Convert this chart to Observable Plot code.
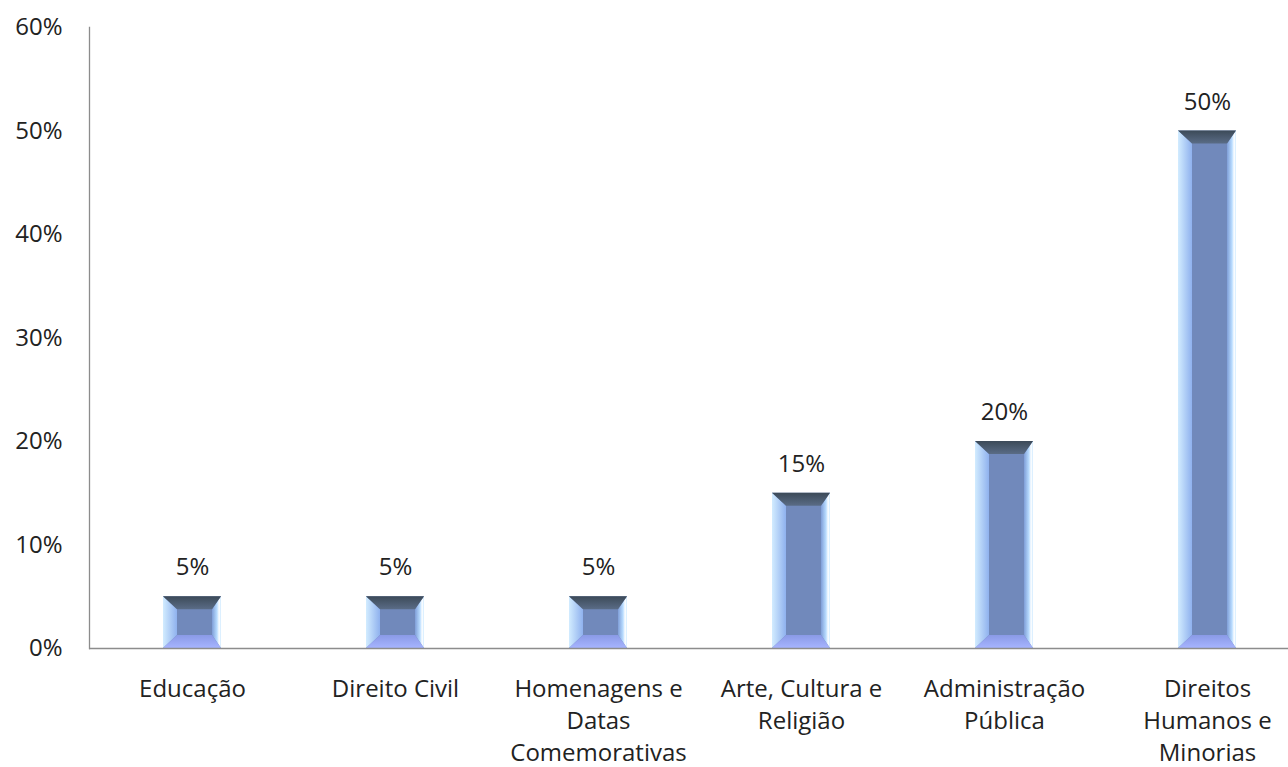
<!DOCTYPE html>
<html><head><meta charset="utf-8">
<script src="https://cdn.jsdelivr.net/npm/d3@7"></script>
<script src="https://cdn.jsdelivr.net/npm/@observablehq/plot@0.6"></script>
<style>
body{margin:0;background:#fff;}
#chart svg{display:block;font-family:"Open Sans",sans-serif;}
</style>
</head><body><div id="chart"></div>
<script>
const categories = ["Educação","Direito Civil","Homenagens e\nDatas\nComemorativas","Arte, Cultura e\nReligião","Administração\nPública","Direitos\nHumanos e\nMinorias"];
const values = [0.05,0.05,0.05,0.15,0.20,0.50];
const yTicks = [0,0.1,0.2,0.3,0.4,0.5,0.6];

const data = categories.map((c,i)=>({cat:c, v:values[i]}));

function bevelRender(index, scales, vals, dims, context) {
  const g = d3.create("svg:g");
  const defs = g.append("defs");
  const uid = "bv" + Math.random().toString(36).slice(2,8);
  const mk = (id, x2, y2, stops) => {
    const lg = defs.append("linearGradient").attr("id", uid+id).attr("x1",0).attr("y1",0).attr("x2",x2).attr("y2",y2);
    stops.forEach(([o,c])=>lg.append("stop").attr("offset",o).attr("stop-color",c));
  };
  mk("top",0,1,[[0,"#3c4a58"],[1,"#5a6c86"]]);
  mk("left",1,0,[[0,"#d2ecff"],[1,"#8fb1ee"]]);
  mk("right",1,0,[[0,"#7f9ed8"],[0.55,"#b8dcff"],[0.8,"#ffffff"],[1,"#cfeaff"]]);
  mk("bot",0,1,[[0,"#8a9ae6"],[1,"#a6b4ff"]]);
  const xs = scales.x, ys = scales.y, bw = xs.bandwidth();
  for (const i of index) {
    const d = data[i];
    const x0 = xs(d.cat), x1 = x0 + bw;
    const y0 = ys(d.v), yb = ys(0);
    const l = 14, r = 9, t = Math.min(13, (yb-y0)/2.5);
    const poly = (pts, fill) => g.append("polygon").attr("points", pts.map(p=>p.join(",")).join(" ")).attr("fill", fill);
    g.append("rect").attr("x",x0).attr("y",y0).attr("width",bw).attr("height",yb-y0).attr("fill","#7189bb");
    poly([[x0,y0],[x0+l,y0+t],[x0+l,yb-t],[x0,yb]], `url(#${uid}left)`);
    poly([[x1,y0],[x1-r,y0+t],[x1-r,yb-t],[x1,yb]], `url(#${uid}right)`);
    poly([[x0,yb],[x1,yb],[x1-r,yb-t],[x0+l,yb-t]], `url(#${uid}bot)`);
    poly([[x0,y0],[x1,y0],[x1-r,y0+t],[x0+l,y0+t]], `url(#${uid}top)`);
  }
  return g.node();
}

const chart = Plot.plot({
  width: 1288,
  height: 767,
  marginLeft: 89,
  marginRight: 0,
  marginTop: 27,
  marginBottom: 119,
  x: {type:"band", domain: categories, range:[89,1310], paddingInner:0.715, paddingOuter:0.3575, axis:null},
  y: {domain:[0,0.6], range:[648,27], axis:null},
  marks: [
    Plot.axisY({ticks: yTicks, tickFormat: d=>Math.round(d*100)+"%", tickSize:0, tickPadding:27, fontSize:24, fill:"#222", label:null}),
    Plot.barY(data, {x:"cat", y:"v", render: bevelRender}),
    Plot.frame({anchor:"left", stroke:"#8c8c8c", strokeWidth:1.3}),
    Plot.ruleY([0], {stroke:"#8c8c8c", strokeWidth:1.3}),
    Plot.text(data, {x:"cat", y:"v", text: d=>Math.round(d.v*100)+"%", dy:-29, fontSize:24, fill:"#222"}),
    Plot.text(data, {x:"cat", y:()=>0, text:"cat", dy:26, lineAnchor:"top", lineHeight:1.33, fontSize:24, fill:"#222"})
  ]
});
document.getElementById("chart").appendChild(chart);
</script>
</body></html>
